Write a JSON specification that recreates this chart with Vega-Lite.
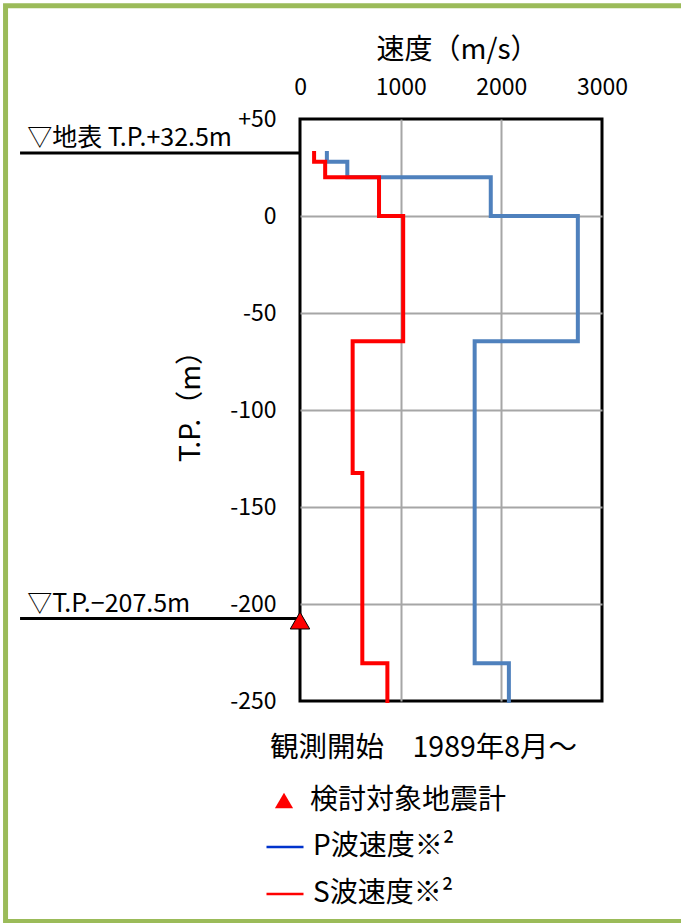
{
  "$schema": "https://vega.github.io/schema/vega-lite/v6.json",
  "width": 302,
  "height": 582,
  "autosize": {"type": "none"},
  "padding": {"left": 300, "top": 119, "right": 79, "bottom": 222},
  "background": "white",
  "config": {
    "font": "Noto Sans CJK JP",
    "view": {"stroke": "black", "strokeWidth": 3},
    "axis": {"labelFont": "Noto Sans CJK JP", "titleFont": "Noto Sans CJK JP", "labelColor": "black", "titleColor": "black", "titleFontWeight": "normal"},
    "legend": {"labelFont": "Noto Sans CJK JP", "titleFont": "Noto Sans CJK JP", "labelColor": "black", "titleColor": "black", "titleFontWeight": "normal", "padding": 0, "labelLimit": 400, "titleLimit": 500}
  },
  "resolve": {"scale": {"color": "independent"}},
  "datasets": {
    "profile": [
      {"wave": "P波速度※²", "i": 1, "v": 267, "d": 32.5},
      {"wave": "P波速度※²", "i": 2, "v": 267, "d": 28},
      {"wave": "P波速度※²", "i": 3, "v": 470, "d": 28},
      {"wave": "P波速度※²", "i": 4, "v": 470, "d": 20},
      {"wave": "P波速度※²", "i": 5, "v": 1895, "d": 20},
      {"wave": "P波速度※²", "i": 6, "v": 1895, "d": 0},
      {"wave": "P波速度※²", "i": 7, "v": 2760, "d": 0},
      {"wave": "P波速度※²", "i": 8, "v": 2760, "d": -64.5},
      {"wave": "P波速度※²", "i": 9, "v": 1735, "d": -64.5},
      {"wave": "P波速度※²", "i": 10, "v": 1735, "d": -230.5},
      {"wave": "P波速度※²", "i": 11, "v": 2075, "d": -230.5},
      {"wave": "P波速度※²", "i": 12, "v": 2075, "d": -250},
      {"wave": "S波速度※²", "i": 1, "v": 140, "d": 32.5},
      {"wave": "S波速度※²", "i": 2, "v": 140, "d": 28},
      {"wave": "S波速度※²", "i": 3, "v": 250, "d": 28},
      {"wave": "S波速度※²", "i": 4, "v": 250, "d": 20},
      {"wave": "S波速度※²", "i": 5, "v": 785, "d": 20},
      {"wave": "S波速度※²", "i": 6, "v": 785, "d": 0},
      {"wave": "S波速度※²", "i": 7, "v": 1025, "d": 0},
      {"wave": "S波速度※²", "i": 8, "v": 1025, "d": -64.5},
      {"wave": "S波速度※²", "i": 9, "v": 523, "d": -64.5},
      {"wave": "S波速度※²", "i": 10, "v": 523, "d": -132.5},
      {"wave": "S波速度※²", "i": 11, "v": 619, "d": -132.5},
      {"wave": "S波速度※²", "i": 12, "v": 619, "d": -230.5},
      {"wave": "S波速度※²", "i": 13, "v": 868, "d": -230.5},
      {"wave": "S波速度※²", "i": 14, "v": 868, "d": -250}
    ],
    "levels": [
      {"d": 32.5, "label": "▽地表 T.P.+32.5m"},
      {"d": -207.5, "label": "▽T.P.−207.5m"}
    ],
    "sensor": [
      {"v": 0, "d": -207.5, "name": "検討対象地震計"}
    ]
  },
  "layer": [
    {
      "data": {"name": "sensor"},
      "mark": {"type": "rect", "fill": null, "stroke": "#9BBB59", "strokeWidth": 5, "clip": false},
      "encoding": {
        "x": {"datum": -2925, "type": "quantitative", "scale": {"domain": [0, 3000], "nice": false, "zero": false}},
        "x2": {"datum": 3900},
        "y": {"datum": 108.35, "type": "quantitative", "scale": {"domain": [-250, 50], "nice": false, "zero": false}},
        "y2": {"datum": -363.7}
      }
    },
    {
      "data": {"name": "profile"},
      "mark": {"type": "line", "strokeWidth": 2, "strokeCap": "butt", "strokeJoin": "miter"},
      "encoding": {
        "x": {"field": "v", "type": "quantitative", "scale": {"domain": [0, 3000], "nice": false, "zero": false}},
        "y": {"field": "d", "type": "quantitative", "scale": {"domain": [-250, 50], "nice": false, "zero": false}},
        "order": {"field": "i", "type": "quantitative"},
        "color": {
          "field": "wave", "type": "nominal",
          "scale": {"domain": ["P波速度※²", "S波速度※²"], "range": ["#0033CC", "#FF0000"]},
          "legend": {
            "orient": "none", "legendX": -35, "legendY": 708, "title": null,
            "symbolType": "stroke", "symbolSize": 1369, "symbolStrokeWidth": 2.5, "symbolOpacity": 1,
            "labelFontSize": 28, "labelOffset": 8, "rowPadding": 13
          }
        }
      }
    },
    {
      "data": {"name": "profile"},
      "mark": {"type": "line", "strokeWidth": 4, "strokeCap": "square", "strokeJoin": "miter"},
      "encoding": {
        "x": {
          "field": "v", "type": "quantitative",
          "scale": {"domain": [0, 3000], "nice": false, "zero": false},
          "axis": {
            "orient": "top", "values": [0, 1000, 2000, 3000], "format": "d",
            "title": "速度（m/s）", "titleFontSize": 28, "titlePadding": 12, "titleX": 157,
            "labelFontSize": 23, "labelPadding": 20, "labelFlush": false, "labelOverlap": false, "ticks": false, "domain": false,
            "grid": true, "gridColor": "#A6A6A6", "gridWidth": 2,
            "gridOpacity": {"condition": {"test": "datum.value === 0 || datum.value === 3000", "value": 0}, "value": 1}
          }
        },
        "y": {
          "field": "d", "type": "quantitative",
          "scale": {"domain": [-250, 50], "nice": false, "zero": false},
          "axis": {
            "values": [50, 0, -50, -100, -150, -200, -250],
            "labelExpr": "datum.value > 0 ? '+' + datum.value : '' + datum.value",
            "title": "T.P.（m）", "titleFontSize": 28, "titlePadding": 24, "titleY": 280,
            "labelFontSize": 23, "labelPadding": 24, "labelFlush": false, "labelOverlap": false, "ticks": false, "domain": false,
            "grid": true, "gridColor": "#A6A6A6", "gridWidth": 2,
            "gridOpacity": {"condition": {"test": "datum.value === 50 || datum.value === -250", "value": 0}, "value": 1}
          }
        },
        "order": {"field": "i", "type": "quantitative"},
        "color": {
          "field": "wave", "type": "nominal",
          "scale": {"domain": ["P波速度※²", "S波速度※²"], "range": ["#4F81BD", "#FF0000"]},
          "legend": null
        }
      }
    },
    {
      "data": {"name": "levels"},
      "mark": {"type": "rule", "color": "black", "strokeWidth": 3, "clip": false},
      "encoding": {
        "x": {"datum": -2781, "type": "quantitative"},
        "x2": {"datum": 0},
        "y": {"field": "d", "type": "quantitative"}
      }
    },
    {
      "data": {"name": "levels"},
      "mark": {"type": "text", "align": "left", "baseline": "alphabetic", "dy": -7, "fontSize": 25, "color": "black", "clip": false},
      "encoding": {
        "x": {"datum": -2710, "type": "quantitative"},
        "y": {"field": "d", "type": "quantitative"},
        "text": {"field": "label"}
      }
    },
    {
      "data": {"name": "sensor"},
      "mark": {"type": "point", "filled": true, "fill": "#FF0000", "stroke": "black", "strokeWidth": 1, "size": 380, "opacity": 1, "clip": false, "yOffset": 2},
      "encoding": {
        "x": {"field": "v", "type": "quantitative"},
        "y": {"field": "d", "type": "quantitative"},
        "shape": {
          "field": "name", "type": "nominal",
          "scale": {"range": ["triangle-up"]},
          "legend": {
            "orient": "none", "legendX": -30, "legendY": 615,
            "title": "観測開始　1989年8月～", "titleFontSize": 28.5, "titlePadding": 24,
            "labelFontSize": 28, "labelOffset": 12, "symbolSize": 330,
            "symbolFillColor": "#FF0000", "symbolStrokeColor": "black", "symbolStrokeWidth": 1
          }
        }
      }
    }
  ]
}
